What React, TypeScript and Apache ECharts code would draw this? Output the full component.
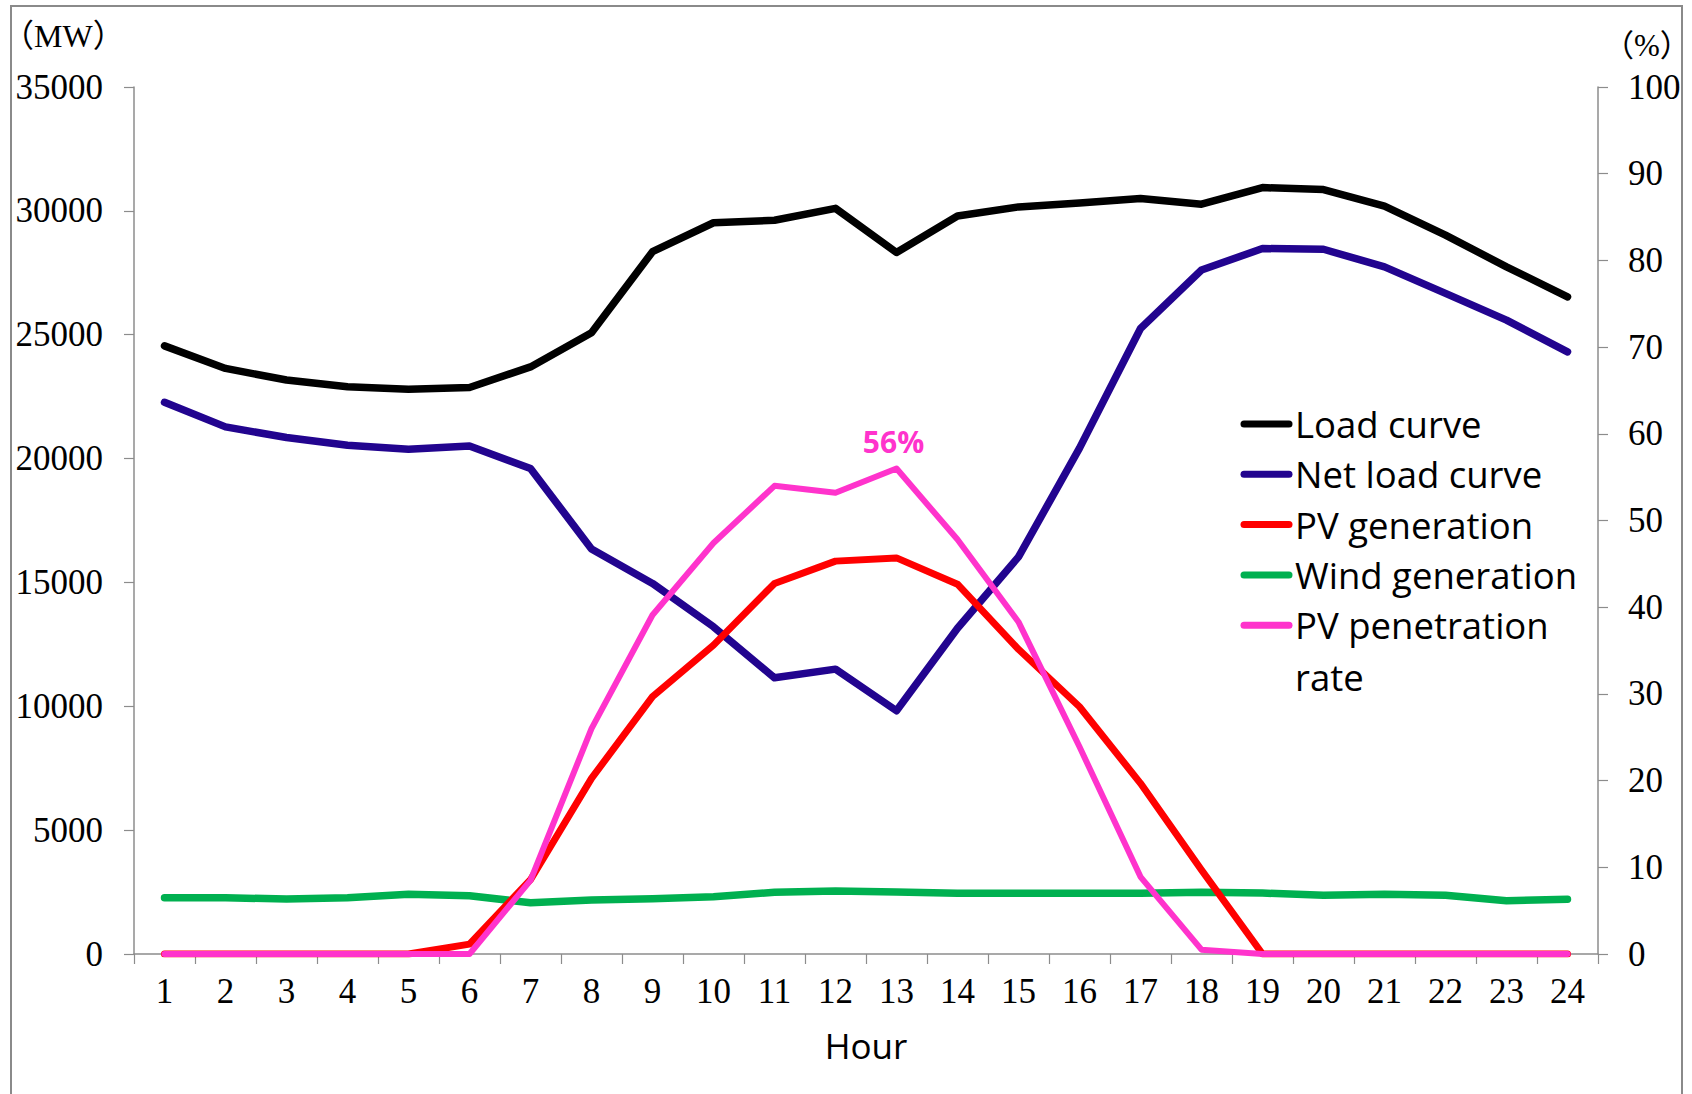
import React, { useEffect, useRef } from "react";
import * as echarts from "echarts";

const hours = ["1","2","3","4","5","6","7","8","9","10","11","12","13","14","15","16","17","18","19","20","21","22","23","24"];
const loadCurve = [24550, 23640, 23170, 22900, 22800, 22870, 23700, 25080, 28350, 29520, 29620, 30100, 28320, 29790, 30160, 30320, 30500, 30270, 30940, 30860, 30190, 29020, 27740, 26530];
const netLoad = [22270, 21280, 20850, 20540, 20380, 20510, 19600, 16350, 14960, 13210, 11150, 11500, 9820, 13150, 16030, 20420, 25250, 27610, 28480, 28450, 27740, 26670, 25590, 24310];
const pvGeneration = [0, 0, 0, 0, 0, 400, 3000, 7090, 10390, 12470, 14960, 15860, 15990, 14930, 12300, 9980, 6890, 3390, 0, 0, 0, 0, 0, 0];
const windGeneration = [2270, 2270, 2220, 2270, 2410, 2350, 2070, 2180, 2230, 2310, 2490, 2540, 2500, 2450, 2450, 2450, 2450, 2490, 2460, 2370, 2410, 2370, 2150, 2210];
const pvPenetration = [0, 0, 0, 0, 0, 0, 8.5, 26, 39.1, 47.4, 54, 53.2, 56, 47.8, 38.3, 23.9, 8.9, 0.5, 0, 0, 0, 0, 0, 0];
const peakIndex = 12;

const seriesNames = ["Load curve", "Net load curve", "PV generation", "Wind generation", "PV penetration rate"];
const legendLabels = [["Load curve"], ["Net load curve"], ["PV generation"], ["Wind generation"], ["PV penetration", "rate"]];
const seriesColors = ["#000000", "#22048f", "#ff0000", "#00b050", "#ff33cc"];
const seriesWidths = [7.5, 7.5, 7, 7.5, 6];
const seriesZ = [2, 3, 5, 4, 6];

const leftTicks = { min: 0, max: 35000, interval: 5000 };
const rightTicks = { min: 0, max: 100, interval: 10 };

const AXIS_GRAY = "#8c8c8c";
const TICK_FONT = "'Liberation Serif', 'DejaVu Serif', serif";
const SANS = "'Open Sans', Lato, sans-serif";

export default function App() {
  const ref = useRef<HTMLDivElement>(null);

  useEffect(() => {
    if (!ref.current) return;
    const chart = echarts.init(ref.current, null, { renderer: "svg" });

    const dataSets = [loadCurve, netLoad, pvGeneration, windGeneration, pvPenetration];

    const series: any[] = dataSets.map((d, i) => {
      const isRate = i === 4;
      const data = isRate
        ? d.map((v, k) =>
            k === peakIndex
              ? {
                  value: v,
                  symbol: "circle",
                  symbolSize: 2,
                  label: {
                    show: true,
                    position: "top",
                    distance: 11,
                    offset: [-3, 0],
                    formatter: "{c}%",
                    color: seriesColors[4],
                    fontSize: 30,
                    fontWeight: "bold",
                    fontFamily: SANS,
                  },
                }
              : { value: v, symbol: "none" }
          )
        : d;
      return {
        name: seriesNames[i],
        type: "line",
        yAxisIndex: isRate ? 1 : 0,
        data,
        showSymbol: isRate,
        symbol: isRate ? "circle" : "none",
        symbolSize: 2,
        z: seriesZ[i],
        lineStyle: { color: seriesColors[i], width: seriesWidths[i], cap: "round", join: "round" },
        itemStyle: { color: seriesColors[i] },
        emphasis: { disabled: true },
      };
    });

    const legendGraphics: any[] = [];
    const legX = 1241;
    const legY0 = 424;
    const legStep = 50.3;
    legendLabels.forEach((lines, i) => {
      const y = legY0 + i * legStep;
      legendGraphics.push({
        type: "line",
        shape: { x1: legX + 3, y1: y, x2: legX + 48, y2: y },
        style: { stroke: seriesColors[i], lineWidth: 7, lineCap: "round" },
        z: 10,
      });
      lines.forEach((t, j) => {
        legendGraphics.push({
          type: "text",
          x: 1295,
          y: y + j * 52,
          style: {
            text: t,
            fill: "#000",
            fontSize: 36.5,
            fontFamily: SANS,
            verticalAlign: "middle",
            align: "left",
          },
          z: 10,
        });
      });
    });

    const plainNumber = (v: number) => String(v);

    const option: any = {
      animation: false,
      backgroundColor: "#ffffff",
      grid: { left: 134, right: 94, top: 87, bottom: 140, containLabel: false },
      xAxis: {
        type: "category",
        data: hours,
        boundaryGap: true,
        name: "Hour",
        nameLocation: "middle",
        nameGap: 74,
        nameTextStyle: { fontFamily: SANS, fontSize: 35, color: "#000" },
        axisLine: { show: true, lineStyle: { color: AXIS_GRAY, width: 1.5 } },
        axisTick: { show: true, length: 10, lineStyle: { color: AXIS_GRAY, width: 1.2 } },
        axisLabel: { interval: 0, fontFamily: TICK_FONT, fontSize: 35, color: "#000", margin: 20 },
        splitLine: { show: false },
      },
      yAxis: [
        {
          type: "value",
          position: "left",
          ...leftTicks,
          axisLine: { show: true, lineStyle: { color: AXIS_GRAY, width: 1.5 } },
          axisTick: { show: true, length: 10, lineStyle: { color: AXIS_GRAY, width: 1.2 } },
          axisLabel: { fontFamily: TICK_FONT, fontSize: 35, color: "#000", margin: 31, formatter: plainNumber },
          splitLine: { show: false },
        },
        {
          type: "value",
          position: "right",
          ...rightTicks,
          axisLine: { show: true, lineStyle: { color: AXIS_GRAY, width: 1.5 } },
          axisTick: { show: true, length: 10, lineStyle: { color: AXIS_GRAY, width: 1.2 } },
          axisLabel: { fontFamily: TICK_FONT, fontSize: 35, color: "#000", margin: 30, formatter: plainNumber },
          splitLine: { show: false },
        },
      ],
      series,
      graphic: [
        {
          type: "rect",
          shape: { x: 11, y: 6, width: 1671, height: 1100 },
          style: { fill: "none", stroke: "#8a8a8a", lineWidth: 2 },
          z: 0,
          silent: true,
        },
        {
          type: "text",
          x: 2,
          y: 36,
          style: {
            text: "（MW）",
            fill: "#000",
            fontSize: 32,
            fontFamily: "'Liberation Serif', 'Noto Sans CJK JP', serif",
            verticalAlign: "middle",
          },
        },
        {
          type: "text",
          x: 1603,
          y: 45,
          style: {
            text: "（%）",
            fill: "#000",
            fontSize: 31,
            fontFamily: "'Liberation Serif', 'Noto Sans CJK JP', serif",
            verticalAlign: "middle",
          },
        },
        ...legendGraphics,
      ],
    };

    chart.setOption(option);
    return () => chart.dispose();
  }, []);

  return (
    <div
      ref={ref}
      style={{ position: "fixed", left: 0, top: 0, width: 1692, height: 1094, background: "#fff" }}
    />
  );
}
